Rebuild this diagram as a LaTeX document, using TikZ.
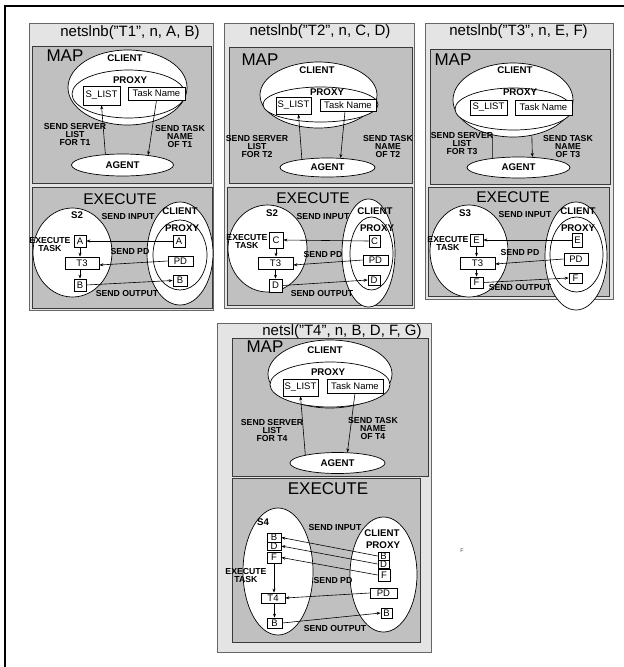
\documentclass[tikz,border=0pt]{standalone}
\usepackage{fontspec}
\setmainfont{Liberation Sans}
\usetikzlibrary{shapes.geometric,arrows.meta}
\definecolor{pfill}{HTML}{E4E4E4}
\definecolor{sfill}{HTML}{C0C0C0}
\definecolor{pborder}{HTML}{666666}
\definecolor{sborder}{HTML}{3A3A3A}
\tikzset{
 panel/.style={draw=pborder, fill=pfill, line width=0.8pt},
 sub/.style={draw=sborder, fill=sfill, line width=0.8pt},
 wh/.style 2 args={minimum width=#1pt, minimum height=#2pt},
 ell/.style={ellipse, draw=black, fill=white, line width=0.7pt, inner sep=0pt},
 bx/.style={rectangle, draw=black, fill=white, line width=0.7pt, inner sep=0pt, font=\fontsize{9.5}{9.5}\selectfont},
 lbl/.style={font=\bfseries\fontsize{8.7}{8}\selectfont, align=center, inner sep=0pt},
 nm/.style={font=\bfseries\fontsize{9.7}{9.7}\selectfont, inner sep=0pt},
 ttl/.style={font=\fontsize{15}{15}\selectfont, inner sep=0pt},
 big/.style={font=\fontsize{17}{17}\selectfont, inner sep=0pt},
 bigx/.style={font=\fontsize{15.5}{15.5}\selectfont, inner sep=0pt},
 arr/.style={-{Stealth[length=4pt,width=3pt]}, line width=0.6pt},
}
\begin{document}
\begin{tikzpicture}[x=1pt,y=-1pt]
\useasboundingbox (0,0) rectangle (624,667);
\draw[line width=2.2pt] (5.3,667) -- (5.3,6) -- (624,6);

% ================= T1 =================
\path[panel] (29,23) rectangle (213,310);
\node[ttl] (t1) at (130,33) {netslnb("T1", n, A, B)};
\path[sub] (32,46) rectangle (211,183);
\node[big] (map1) at (65,56) {MAP};
\node[ell, wh={119}{75}] (cl1) at (127.5,87.5) {};
\node[ell, wh={113}{48}] (px1) at (128.5,94) {};
\node[nm] (cln1) at (125,58) {CLIENT};
\node[nm] (pxn1) at (130,80) {PROXY};
\node[bx, wh={37}{19}] (sl1) at (101.5,95.5) {S\_LIST};
\node[bx, wh={57}{13}] (tn1) at (156.5,93.5) {Task Name};
\node[ell, nm, wh={102}{22}] (ag1) at (122.5,165) {AGENT};
\draw[arr] (ag1.148) -- (sl1.south);
\draw[arr] (tn1.south) -- (ag1.21);
\node[lbl] (ls1) at (75,135) {SEND SERVER\\LIST\\FOR T1};
\node[lbl] (lt1) at (180,137) {SEND TASK\\NAME\\OF T1};

\path[sub] (32,187) rectangle (212,308);
\node[bigx] (ex1) at (120,199) {EXECUTE};
\node[ell, wh={79}{89}] (s1) at (72.5,252.5) {};
\node[ell, wh={66}{103}] (ce1) at (180,253.5) {};
\node[ell, wh={54}{70}] (pe1) at (180,255) {};
\node[nm] (s1n) at (77,215) {S2};
\node[nm] (ce1n) at (180,211) {CLIENT};
\node[nm] (pe1n) at (182,228) {PROXY};
\node[lbl] (et1) at (50,245) {EXECUTE\\TASK};
\node[bx, wh={12}{12}] (sa1) at (80,241) {A};
\node[bx, wh={34}{12}] (st1) at (82,263) {T3};
\node[bx, wh={12}{12}] (sb1) at (80,285) {B};
\node[bx, wh={12}{12}] (ca1) at (179,241) {A};
\node[bx, wh={25}{10}] (cp1) at (180.5,261) {PD};
\node[bx, wh={14}{11}] (cb1) at (180,280.5) {B};
\draw[arr] (ca1.west) -- (sa1.east);
\draw[arr] (cp1.west) -- ([yshift=-2pt]st1.east);
\draw[arr] (sb1.east) -- (cb1.west);
\draw[arr] (sa1.south) -- (sa1.south |- st1.north);
\draw[arr] (sb1.north |- st1.south) -- (sb1.north);
\node[lbl] (si1) at (128,217) {SEND INPUT};
\node[lbl] (sp1) at (130,252) {SEND PD};
\node[lbl] (so1) at (127,293) {SEND OUTPUT};

% ================= T2 =================
\path[panel] (224,23) rectangle (414,308);
\node[ttl] (t2) at (320,32) {netslnb("T2", n, C, D)};
\path[sub] (229,47) rectangle (412,183);
\node[big] (map2) at (260,60) {MAP};
\node[ell, wh={117}{66}] (cl2) at (318.5,95) {};
\node[ell, wh={115}{35}] (px2) at (320.5,104.5) {};
\node[nm] (cln2) at (317,70) {CLIENT};
\node[nm] (pxn2) at (327,92) {PROXY};
\node[bx, wh={35}{17}] (sl2) at (293.5,105.5) {S\_LIST};
\node[bx, wh={56}{12}] (tn2) at (348,105) {Task Name};
\node[ell, nm, wh={95}{19}] (ag2) at (327.5,167.5) {AGENT};
\draw[arr] (ag2.162) -- ([xshift=5pt]sl2.south);
\draw[arr] ([xshift=-3pt]tn2.south) -- (ag2.36);
\node[lbl] (ls2) at (257,147) {SEND SERVER\\LIST\\FOR T2};
\node[lbl] (lt2) at (388,147) {SEND TASK\\NAME\\OF T2};

\path[sub] (227,187) rectangle (412,305);
\node[bigx] (ex2) at (313,198) {EXECUTE};
\node[ell, wh={79}{87}] (s2) at (267.5,248.5) {};
\node[ell, wh={53}{108}] (ce2) at (368.5,253) {};
\node[ell, wh={43}{73}] (pe2) at (371.5,253.5) {};
\node[nm] (s2n) at (272,213) {S2};
\node[nm] (ce2n) at (375,211) {CLIENT};
\node[nm] (pe2n) at (377,228) {PROXY};
\node[lbl] (et2) at (247,242) {EXECUTE\\TASK};
\node[bx, wh={14}{16}] (sa2) at (276,240) {C};
\node[bx, wh={35}{12}] (st2) at (275.5,263) {T3};
\node[bx, wh={13}{13}] (sb2) at (275.5,285.5) {D};
\node[bx, wh={11}{12}] (ca2) at (374.5,241) {C};
\node[bx, wh={25}{10}] (cp2) at (375.5,260) {PD};
\node[bx, wh={12}{10}] (cb2) at (374,280) {D};
\draw[arr] (ca2.west) -- (sa2.east);
\draw[arr] (cp2.west) -- ([yshift=-2pt]st2.east);
\draw[arr] (sb2.east) -- (cb2.west);
\draw[arr] (sa2.south) -- (sa2.south |- st2.north);
\draw[arr] (sb2.north |- st2.south) -- (sb2.north);
\node[lbl] (si2) at (323,217) {SEND INPUT};
\node[lbl] (sp2) at (323,255) {SEND PD};
\node[lbl] (so2) at (322,293) {SEND OUTPUT};

% ================= T3 =================
\path[panel] (425,23) rectangle (613,299);
\node[ttl] (t3) at (518.5,32) {netslnb("T3", n, E, F)};
\path[sub] (430,49) rectangle (610,184);
\node[big] (map3) at (453,60) {MAP};
\node[ell, wh={120}{74}] (cl3) at (513,100) {};
\node[ell, wh={117}{42}] (px3) at (513.5,109) {};
\node[nm] (cln3) at (515,70) {CLIENT};
\node[nm] (pxn3) at (520,92) {PROXY};
\node[bx, wh={37}{15}] (sl3) at (488.5,107.5) {S\_LIST};
\node[bx, wh={57}{15}] (tn3) at (543.5,107.5) {Task Name};
\node[ell, nm, wh={103}{21}] (ag3) at (518.5,167.5) {AGENT};
\draw[line width=0.6pt] (cl3.240) -- (ag3.160);
\draw[arr] (cl3.298) -- (ag3.37);
\node[lbl] (ls3) at (462,144) {SEND SERVER\\LIST\\FOR T3};
\node[lbl] (lt3) at (568,147) {SEND TASK\\NAME\\OF T3};

\path[sub] (428,187) rectangle (609,296);
\node[bigx] (ex3) at (513,197) {EXECUTE};
\node[ell, wh={78}{92}] (s3) at (469,251) {};
\node[ell, wh={62}{108}] (ce3) at (576,256) {};
\node[ell, wh={53}{75}] (pe3) at (576.5,254.5) {};
\node[nm] (s3n) at (465,213) {S3};
\node[nm] (ce3n) at (578,211) {CLIENT};
\node[nm] (pe3n) at (578,228) {PROXY};
\node[lbl] (et3) at (448,244) {EXECUTE\\TASK};
\node[bx, wh={13}{12}] (sa3) at (476.5,240) {E};
\node[bx, wh={35}{12}] (st3) at (477.5,263) {T3};
\node[bx, wh={13}{11}] (sb3) at (476.5,282.5) {F};
\node[bx, wh={10}{14}] (ca3) at (577.5,240) {E};
\node[bx, wh={24}{12}] (cp3) at (576,259) {PD};
\node[bx, wh={13}{10}] (cb3) at (575.5,278) {F};
\draw[arr] (ca3.west) -- (sa3.east);
\draw[arr] (cp3.west) -- ([yshift=-1pt]st3.east);
\draw[arr] (sb3.east) -- (cb3.west);
\draw[arr] (sa3.south) -- (sa3.south |- st3.north);
\draw[arr] (sb3.north |- st3.south) -- (sb3.north);
\node[lbl] (si3) at (525,215) {SEND INPUT};
\node[lbl] (sp3) at (520,253) {SEND PD};
\node[lbl] (so3) at (520,288) {SEND OUTPUT};

% ================= T4 =================
\path[panel] (217,323) rectangle (431,652);
\node[ttl] (t4) at (342,332) {netsl("T4", n, B, D, F, G)};
\path[sub] (232,338) rectangle (428,476);
\node[big] (map4) at (265,347) {MAP};
\node[ell, wh={124}{68}] (cl4) at (330,374) {};
\node[ell, wh={120}{45}] (px4) at (330,384.5) {};
\node[nm] (cln4) at (325,350) {CLIENT};
\node[nm] (pxn4) at (328,372) {PROXY};
\node[bx, wh={35}{17}] (sl4) at (300.5,387.5) {S\_LIST};
\node[bx, wh={56}{14}] (tn4) at (355,386) {Task Name};
\node[ell, nm, wh={95}{21}] (ag4) at (337.5,463) {AGENT};
\draw[arr] (ag4.166) -- (sl4.south);
\draw[arr] (tn4.south) -- (ag4.47);
\node[lbl] (ls4) at (272,430) {SEND SERVER\\LIST\\FOR T4};
\node[lbl] (lt4) at (373,428) {SEND TASK\\NAME\\OF T4};

\path[sub] (232,478) rectangle (420,642);
\node[big] (ex4) at (328,489) {EXECUTE};
\node[ell, wh={70}{127}] (s4) at (278,571.5) {};
\node[ell, wh={67}{115}] (ce4) at (383.5,574.5) {};
\node[nm] (s4n) at (263,522) {S4};
\node[nm] (ce4n) at (382,533) {CLIENT};
\node[nm] (pe4n) at (383,545) {PROXY};
\node[lbl] (et4) at (246,575) {EXECUTE\\TASK};
\node[bx, wh={14}{9}] (sb4) at (274,537.5) {B};
\node[bx, wh={14}{8}] (sd4) at (274,546) {D};
\node[bx, wh={14}{11}] (sf4) at (274,557.5) {F};
\node[bx, wh={24}{10}] (st4) at (273,598) {T4};
\node[bx, wh={15}{10}] (so4b) at (274.5,623) {B};
\node[bx, wh={11}{8}] (cb4) at (383.5,556) {B};
\node[bx, wh={11}{8}] (cd4) at (383.5,564) {D};
\node[bx, wh={12}{12}] (cf4) at (384,575) {F};
\node[bx, wh={27}{10}] (cp4) at (383.5,593) {PD};
\node[bx, wh={11}{10}] (co4) at (386.5,613) {B};
\draw[arr] (cb4.west) -- (sb4.east);
\draw[arr] (cd4.west) -- (sd4.east);
\draw[arr] (cf4.west) -- (sf4.east);
\draw[arr] (cp4.west) -- (st4.east);
\draw[arr] (so4b.east) -- (co4.west);
\draw[arr] (sf4.south) -- (sf4.south |- st4.north);
\draw[arr] (so4b.north |- st4.south) -- (so4b.north);
\node[lbl] (si4) at (335,527) {SEND INPUT};
\node[lbl] (sp4) at (333,580) {SEND PD};
\node[lbl] (so4) at (335,628) {SEND OUTPUT};

\node[font=\fontsize{5.5}{5.5}\selectfont, text=black!70, inner sep=0pt] (stray) at (462,551) {F};
\end{tikzpicture}
\end{document}
